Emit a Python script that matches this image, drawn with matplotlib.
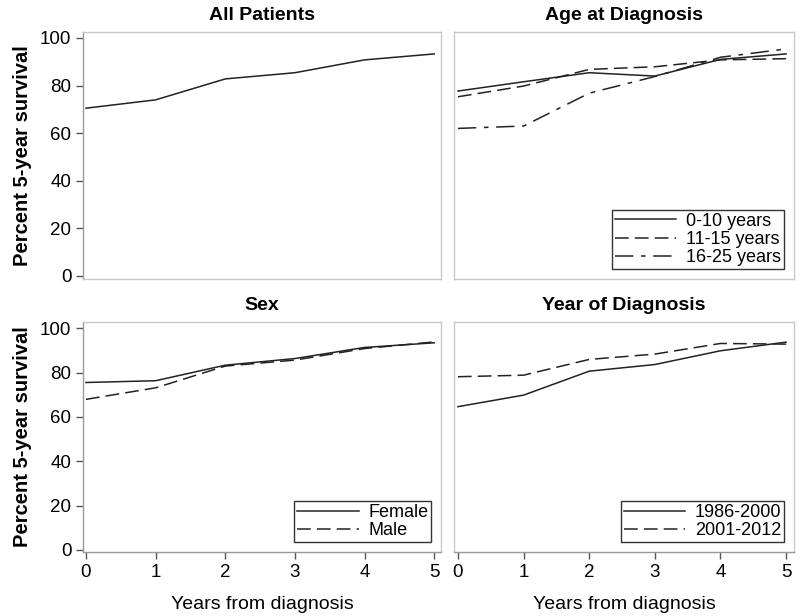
import matplotlib
matplotlib.use("Agg")
import matplotlib.pyplot as plt

plt.rcParams['font.family'] = ['Liberation Sans', 'DejaVu Sans']

years = [0, 1, 2, 3, 4, 5]

# All patients
all_patients = [70.5, 74.0, 82.8, 85.4, 90.8, 93.3]

# Age at diagnosis
age_labels = ['0-10 years', '11-15 years', '16-25 years']
age_0_10 = [77.7, 81.6, 85.4, 84.0, 91.0, 93.3]
age_11_15 = [75.3, 79.8, 86.8, 87.9, 90.8, 91.3]
age_16_25 = [62.0, 63.0, 76.8, 83.8, 91.9, 95.4]

# Sex
sex_labels = ['Female', 'Male']
female = [75.5, 76.3, 83.3, 86.3, 91.3, 93.4]
male = [67.9, 73.1, 82.9, 85.6, 90.8, 93.8]

# Year of diagnosis
period_labels = ['1986-2000', '2001-2012']
period_1986_2000 = [64.6, 69.8, 80.6, 83.6, 89.8, 93.7]
period_2001_2012 = [78.1, 78.8, 85.9, 88.3, 93.1, 92.8]

yticks = [0, 20, 40, 60, 80, 100]

fig = plt.figure(figsize=(8, 6.16), dpi=100)

ax_tl = fig.add_axes([0.104, 0.547, 0.4475, 0.401])
ax_tr = fig.add_axes([0.5675, 0.547, 0.425, 0.401])
ax_bl = fig.add_axes([0.104, 0.104, 0.4475, 0.373])
ax_br = fig.add_axes([0.5675, 0.104, 0.425, 0.373])

line_col = '#222222'
solid = dict(color=line_col, linewidth=1.1, linestyle='-')
dashed = dict(color=line_col, linewidth=1.1, linestyle=(0, (9, 4)))
dashdot = dict(color=line_col, linewidth=1.1, linestyle=(0, (12, 5, 3, 5)))

title_kw = dict(fontsize=14, fontweight='bold', pad=9)

# Top-left
ax_tl.plot(years, all_patients, **solid)
ax_tl.set_title('All Patients', **title_kw)

# Top-right
ax_tr.plot(years, age_0_10, label=age_labels[0], **solid)
ax_tr.plot(years, age_11_15, label=age_labels[1], **dashed)
ax_tr.plot(years, age_16_25, label=age_labels[2], **dashdot)
ax_tr.set_title('Age at Diagnosis', **title_kw)

# Bottom-left
ax_bl.plot(years, female, label=sex_labels[0], **solid)
ax_bl.plot(years, male, label=sex_labels[1], **dashed)
ax_bl.set_title('Sex', **title_kw)

# Bottom-right
ax_br.plot(years, period_1986_2000, label=period_labels[0], **solid)
ax_br.plot(years, period_2001_2012, label=period_labels[1], **dashed)
ax_br.set_title('Year of Diagnosis', **title_kw)

for ax in [ax_tl, ax_tr, ax_bl, ax_br]:
    for s in ax.spines.values():
        s.set_color('#c8c8c8')
        s.set_linewidth(1.0)
    ax.tick_params(colors='#555555', labelcolor='black', labelsize=13.5, length=5, width=1)

ax_tl.set_xlim(-0.04, 5.1)
ax_bl.set_xlim(-0.04, 5.1)
ax_tr.set_xlim(-0.06, 5.12)
ax_br.set_xlim(-0.06, 5.12)

ax_tl.set_ylim(-1.3, 102.5)
ax_tr.set_ylim(-1.3, 102.5)
ax_bl.set_ylim(-0.9, 102.7)
ax_br.set_ylim(-0.9, 102.7)

for ax in [ax_tl, ax_bl]:
    ax.set_yticks(yticks)
    ax.set_ylabel('Percent 5-year survival', fontsize=14.5, fontweight='bold', labelpad=6)
    ax.spines['left'].set_color('#999999')
for ax in [ax_tr, ax_br]:
    ax.set_yticks([])
for ax in [ax_tl, ax_tr]:
    ax.set_xticks([])
for ax in [ax_bl, ax_br]:
    ax.set_xticks(years)
    ax.set_xlabel('Years from diagnosis', fontsize=14, labelpad=11)
    ax.spines['bottom'].set_color('#999999')

leg_kw = dict(loc='lower right', fontsize=13, frameon=True, fancybox=False,
              borderpad=0.15, labelspacing=0.08, handlelength=3.4, handletextpad=0.55,
              borderaxespad=0.55)
for ax in [ax_tr, ax_bl, ax_br]:
    leg = ax.legend(**leg_kw)
    leg.get_frame().set_edgecolor('black')
    leg.get_frame().set_linewidth(1.0)

fig.savefig('out.png', dpi=100)
